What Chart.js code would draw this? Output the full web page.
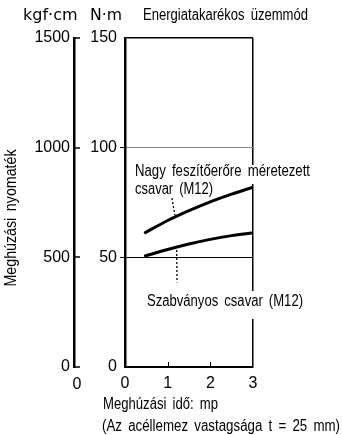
<!DOCTYPE html>
<html>
<head>
<meta charset="utf-8">
<script src="https://cdn.jsdelivr.net/npm/chart.js@4.4.1/dist/chart.umd.min.js"></script>
<style>
  html, body { margin: 0; padding: 0; background: #fff; }
</style>
</head>
<body>
<canvas id="torqueChart" width="342" height="435"></canvas>
<script>
// tightening time (s) and torque (N·m)
const timeSec = [0.45, 1, 1.5, 2, 2.5, 3];
const highTensionNm = [61, 66.8, 71.3, 75.3, 78.8, 82];
const standardNm = [50.5, 53.6, 56.1, 58.2, 59.9, 61.2];

const timeTicks = [0, 1, 2, 3];
const nmTicks = [0, 50, 100, 150];
const kgfTicks = [0, 500, 1000, 1500];

// dotted leaders from the labels to the curves, in data units [t, N·m]
const highLeader = [[1.1, 77], [1.17, 69.3]];
const standardLeader = [[1.21, 55.2], [1.22, 38.5]];

const numFont = { family: 'Liberation Sans', size: 16 };
const TRANSPARENT = 'rgba(0,0,0,0)';

const fixTicks = list => scale => { scale.ticks = list.map(v => ({ value: v })); };

const overlayText = {
    id: 'overlayText',
    afterDraw(chart) {
        const { ctx, scales: { x, y, y2 } } = chart;
        ctx.save();
        ctx.strokeStyle = '#000';

        // inward tick marks: kgf·cm axis points right, time axis points up
        ctx.lineWidth = 1.5;
        kgfTicks.forEach(v => {
            const py = Math.round(y2.getPixelForValue(v));
            ctx.beginPath();
            ctx.moveTo(y2.right - 1, py);
            ctx.lineTo(y2.right + 6, py);
            ctx.stroke();
        });
        ctx.lineWidth = 1;
        timeTicks.slice(1, -1).forEach(v => {
            const px = Math.round(x.getPixelForValue(v)) + 0.5;
            ctx.beginPath();
            ctx.moveTo(px, x.top);
            ctx.lineTo(px, x.top - 5);
            ctx.stroke();
        });

        // leaders
        ctx.lineWidth = 1.3;
        ctx.setLineDash([2, 2]);
        [highLeader, standardLeader].forEach(seg => {
            ctx.beginPath();
            ctx.moveTo(x.getPixelForValue(seg[0][0]), y.getPixelForValue(seg[0][1]));
            ctx.lineTo(x.getPixelForValue(seg[1][0]), y.getPixelForValue(seg[1][1]));
            ctx.stroke();
        });
        ctx.setLineDash([]);

        // white gaps in the frame behind the curve labels
        ctx.fillStyle = '#fff';
        ctx.fillRect(133, 165, 180, 19);
        ctx.fillRect(144, 291, 164, 28);

        ctx.fillStyle = '#000';
        ctx.textBaseline = 'middle';
        ctx.textAlign = 'left';
        const put = (text, left, cy, width, font) => {
            ctx.font = font;
            ctx.fillText(text, left, cy, width);
        };
        const txt = '16px "Liberation Sans"';
        ctx.wordSpacing = '3px';

        put('kgf·cm', 23, 16, 57, '16px "DejaVu Sans"');
        put('N·m', 90, 16, 32, '16px "DejaVu Sans"');
        put('Energiatakarékos üzemmód', 143, 16, 165, txt);

        put('Nagy feszítőerőre méretezett', 135, 172, 175, txt);
        put('csavar (M12)', 135, 190, 78, txt);
        put('Szabványos csavar (M12)', 147, 302, 156, txt);

        put('Meghúzási idő: mp', 103, 405, 115, txt);
        put('(Az acéllemez vastagsága t = 25 mm)', 102, 427, 238, txt);

        // zero of the left (kgf·cm) axis
        ctx.textAlign = 'center';
        put('0', 77, 385, 20, '16px "Liberation Sans"');

        // rotated axis title
        ctx.translate(12, 218);
        ctx.rotate(-Math.PI / 2);
        put('Meghúzási nyomaték', 0, 0, 137, txt);

        ctx.restore();
    }
};

const ctx = document.getElementById('torqueChart').getContext('2d');
new Chart(ctx, {
    type: 'line',
    data: {
        datasets: [
            {
                label: 'Nagy feszítőerőre méretezett csavar (M12)',
                data: timeSec.map((t, i) => ({ x: t, y: highTensionNm[i] })),
                borderColor: '#000',
                borderWidth: 3,
                pointRadius: 0,
                cubicInterpolationMode: 'monotone',
                fill: false,
            },
            {
                label: 'Szabványos csavar (M12)',
                data: timeSec.map((t, i) => ({ x: t, y: standardNm[i] })),
                borderColor: '#000',
                borderWidth: 3,
                pointRadius: 0,
                cubicInterpolationMode: 'monotone',
                fill: false,
            },
        ],
    },
    options: {
        responsive: false,
        animation: false,
        devicePixelRatio: 1,
        layout: { padding: { top: 38, right: 89, bottom: 0, left: 0 } },
        plugins: { legend: { display: false }, tooltip: { enabled: false } },
        scales: {
            x: {
                type: 'linear',
                position: 'bottom',
                min: 0,
                max: 3,
                afterBuildTicks: fixTicks(timeTicks),
                afterFit: s => { s.height = 68; },
                border: { display: true, color: '#000', width: 2 },
                grid: {
                    color: c => (c.tick && c.tick.value === 3 ? '#000' : TRANSPARENT),
                    lineWidth: 1.5,
                    drawTicks: false,
                },
                ticks: { color: '#000', font: numFont, padding: 7, maxRotation: 0 },
            },
            y: {
                type: 'linear',
                position: 'left',
                weight: 0,
                min: 0,
                max: 150,
                afterBuildTicks: fixTicks(nmTicks),
                afterFit: s => { s.width = 51; },
                border: { display: true, color: '#000', width: 2.5 },
                grid: {
                    color: c => {
                        const v = c.tick && c.tick.value;
                        if (v === 100) return '#8a8a8a';
                        if (v === 50 || v === 150) return '#000';
                        return TRANSPARENT;
                    },
                    lineWidth: c => (c.tick && c.tick.value === 150 ? 1.5 : 1),
                    tickLength: 5,
                    tickColor: c => (c.tick && (c.tick.value === 50 || c.tick.value === 100) ? '#000' : TRANSPARENT),
                },
                ticks: { color: '#000', font: numFont, padding: 3 },
            },
            y2: {
                type: 'linear',
                position: 'left',
                weight: 1,
                min: 0,
                max: 1500,
                afterBuildTicks: fixTicks(kgfTicks),
                afterFit: s => { s.width = 74; },
                border: { display: true, color: '#000', width: 2.5 },
                grid: { drawOnChartArea: false, drawTicks: false },
                ticks: { color: '#000', font: numFont, padding: 4, callback: v => String(v) },
            },
        },
    },
    plugins: [overlayText],
});
</script>
</body>
</html>
